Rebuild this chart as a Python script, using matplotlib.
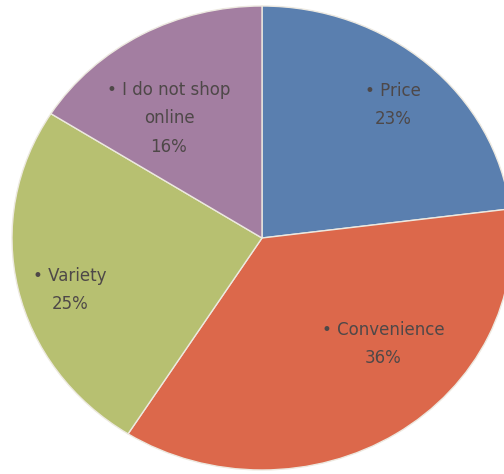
import matplotlib.pyplot as plt

# survey answers: main reason for shopping online
reasons = ["Price", "Convenience", "Variety", "I do not shop\nonline"]
shares = [23, 36, 25, 16]
colors = ["#5A7FAF", "#DC684B", "#B7C071", "#A37EA1"]

# label anchor points inside each wedge (data units of the stretched pie)
label_pos = [(0.524, 0.573), (0.484, -0.457), (-0.768, -0.224), (-0.372, 0.517)]

fig = plt.figure(figsize=(5.04, 4.74), dpi=100)
ax = fig.add_axes([0, 0, 1, 1])

ax.pie(
    shares,
    colors=colors,
    startangle=90,
    counterclock=False,
    wedgeprops={"edgecolor": "#EDE9E0", "linewidth": 1.0},
)

# pie is drawn a little wider than tall and runs off the right edge
ax.set_aspect("auto")
ax.set_xlim(-262 / 250, (504 - 262) / 250)
ax.set_ylim(-(474 - 238) / 232, 238 / 232)
ax.axis("off")

for name, share, (x, y) in zip(reasons, shares, label_pos):
    ax.text(
        x, y,
        f"\u2022 {name}\n{share}%",
        ha="center",
        va="center",
        fontsize=12,
        family="DejaVu Sans",
        color="#4E4848",
        linespacing=1.75,
    )

fig.savefig("out.png", dpi=100)
plt.close(fig)
